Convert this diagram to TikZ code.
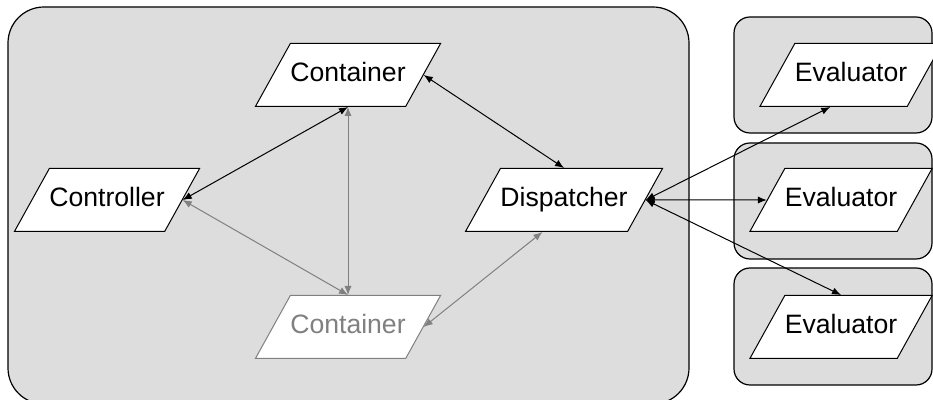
\documentclass[tikz,border=0pt]{standalone}
\usepackage{fontspec}
\setmainfont{Liberation Sans}
\usetikzlibrary{shapes.geometric,arrows.meta}

\begin{document}
\begin{tikzpicture}[x=0.5pt, y=-0.5pt, >={Latex[length=4.5pt, width=3.6pt]},
    io/.style={trapezium, trapezium left angle=61, trapezium right angle=119,
        trapezium stretches body, draw, fill=white, line width=0.5pt,
        minimum width=89.5pt, text height=9.5pt, text depth=2.5pt,
        inner xsep=0pt, inner ysep=9.75pt,
        font=\fontsize{13.3}{16}\selectfont},
    faded/.style={draw=gray, text=gray},
    group/.style={draw, fill=gray!27, line width=0.6pt}]
    \useasboundingbox (0,0) rectangle (933,400);

    \draw[group, rounded corners=18pt] (8,7) rectangle (689,404);
    \draw[group, rounded corners=8pt] (734,17) rectangle (932,133);
    \draw[group, rounded corners=8pt] (734,143) rectangle (932,259);
    \draw[group, rounded corners=8pt] (734,268) rectangle (932,385);

    \node[io] (controller) at (107,200) [] {Controller};
    \node[io] (container1) at (348,75) [] {Container};
    \node[io, faded] (container2) at (348,327) [] {Container};
    \node[io] (dispatcher) at (564,200) [] {Dispatcher};
    \node[io] (evaluator1) at (851,75) [] {Evaluator};
    \node[io] (evaluator2) at (841,200) [] {Evaluator};
    \node[io] (evaluator3) at (841,327) [] {Evaluator};

    \draw [<->, line width=0.5pt] (controller.east) -- (container1.south);
    \draw [<->, line width=0.5pt] (container1.east) -- (dispatcher.north);
    \draw [<->, line width=0.5pt, color=gray] (container1.south) -- (container2.north);
    \draw [<->, line width=0.5pt, color=gray] (controller.east) -- (container2.north);
    \draw [<->, line width=0.5pt, color=gray] (container2.east) -- (dispatcher.-124);

    \draw [<->, line width=0.5pt] (dispatcher.east) -- (evaluator1.-123);
    \draw [<->, line width=0.5pt] (dispatcher.east) -- (evaluator2.west);
    \draw [<->, line width=0.5pt] (dispatcher.east) -- (evaluator3.north);
\end{tikzpicture}
\end{document}
